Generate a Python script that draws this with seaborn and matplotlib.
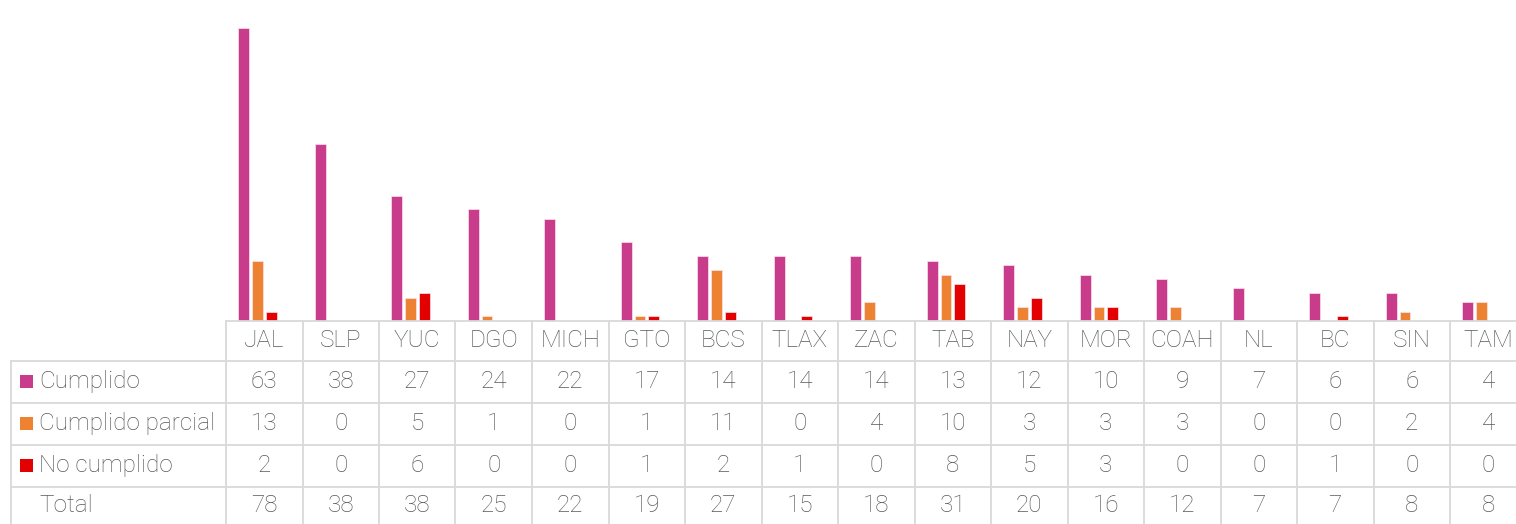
import matplotlib
matplotlib.use("Agg")
import matplotlib.pyplot as plt
from matplotlib.patches import Rectangle
from matplotlib.lines import Line2D
import seaborn as sns
import pandas as pd

categories = ["JAL", "SLP", "YUC", "DGO", "MICH", "GTO", "BCS", "TLAX", "ZAC",
              "TAB", "NAY", "MOR", "COAH", "NL", "BC", "SIN", "TAM"]
cumplido = [63, 38, 27, 24, 22, 17, 14, 14, 14, 13, 12, 10, 9, 7, 6, 6, 4]
cumplido_parcial = [13, 0, 5, 1, 0, 1, 11, 0, 4, 10, 3, 3, 3, 0, 0, 2, 4]
no_cumplido = [2, 0, 6, 0, 0, 1, 2, 1, 0, 8, 5, 3, 0, 0, 1, 0, 0]
total = [78, 38, 38, 25, 22, 19, 27, 15, 18, 31, 20, 16, 12, 7, 7, 8, 8]

series_names = ["Cumplido", "Cumplido parcial", "No cumplido"]
series_values = [cumplido, cumplido_parcial, no_cumplido]
colors = ["#C83C8B", "#EE8233", "#E30000"]

rows = []
for name, vals in zip(series_names, series_values):
    for c, v in zip(categories, vals):
        rows.append({"estado": c, "serie": name, "valor": v})
df = pd.DataFrame(rows)

W, H = 1516, 524
fig = plt.figure(figsize=(W / 100, H / 100), dpi=100)

def fx(x):
    return x / W

def fy(y):
    return 1 - y / H

# bar axes (pixel geometry)
col0, colw = 226.0, 76.5
baseline = 321.0
n = len(categories)
bar_left = 257.5 - colw / 2
ax = fig.add_axes([fx(bar_left), fy(baseline), n * colw / W, baseline / H])
sns.barplot(data=df, x="estado", y="valor", hue="serie", order=categories,
            hue_order=series_names, palette=colors, saturation=1,
            width=0.54, gap=0.22, linewidth=0.5, edgecolor="#FBE3EE",
            legend=False, ax=ax)
ax.set_xlim(-0.5, n - 0.5)
ax.set_ylim(0, baseline / 4.646)
ax.axis("off")

# table
font = ["Roboto", "Liberation Sans", "DejaVu Sans"]
tcol = "#595959"
lcol = "#D9D9D9"
lw = 1.3
fs = 17.5

row_lines = [360.7, 402.7, 445.0, 486.7]
bottom = 530
fig.add_artist(Line2D([fx(col0), fx(W + 20)], [fy(baseline), fy(baseline)],
                      color=lcol, lw=lw, transform=fig.transFigure))
for yl in row_lines:
    fig.add_artist(Line2D([fx(11), fx(W + 20)], [fy(yl), fy(yl)],
                          color=lcol, lw=lw, transform=fig.transFigure))
fig.add_artist(Line2D([fx(11), fx(11)], [fy(row_lines[0]), fy(bottom)],
                      color=lcol, lw=lw, transform=fig.transFigure))
for k in range(n + 1):
    xl = col0 + k * colw
    fig.add_artist(Line2D([fx(xl), fx(xl)], [fy(baseline), fy(bottom)],
                          color=lcol, lw=lw, transform=fig.transFigure))

header_y = 340.5
row_y = [381.5, 423.5, 465.5, 505.5]
for k, c in enumerate(categories):
    xc = col0 + (k + 0.5) * colw
    fig.text(fx(xc), fy(header_y), c, ha="center", va="center", fontsize=fs,
             color=tcol, family=font, fontweight="light")
    for yv, vals in zip(row_y, series_values + [total]):
        fig.text(fx(xc), fy(yv), str(vals[k]), ha="center", va="center",
                 fontsize=fs, color=tcol, family=font, fontweight="light")

labels = series_names + ["Total"]
for i, (lab, yv) in enumerate(zip(labels, row_y)):
    if i < 3:
        fig.add_artist(Rectangle((fx(20), fy(yv + 6.5)), 13 / W, 13 / H,
                                 facecolor=colors[i], edgecolor="none",
                                 transform=fig.transFigure))
    fig.text(fx(39), fy(yv), lab, ha="left", va="center", fontsize=fs,
             color=tcol, family=font, fontweight="light")

fig.savefig("out.png", dpi=100)
